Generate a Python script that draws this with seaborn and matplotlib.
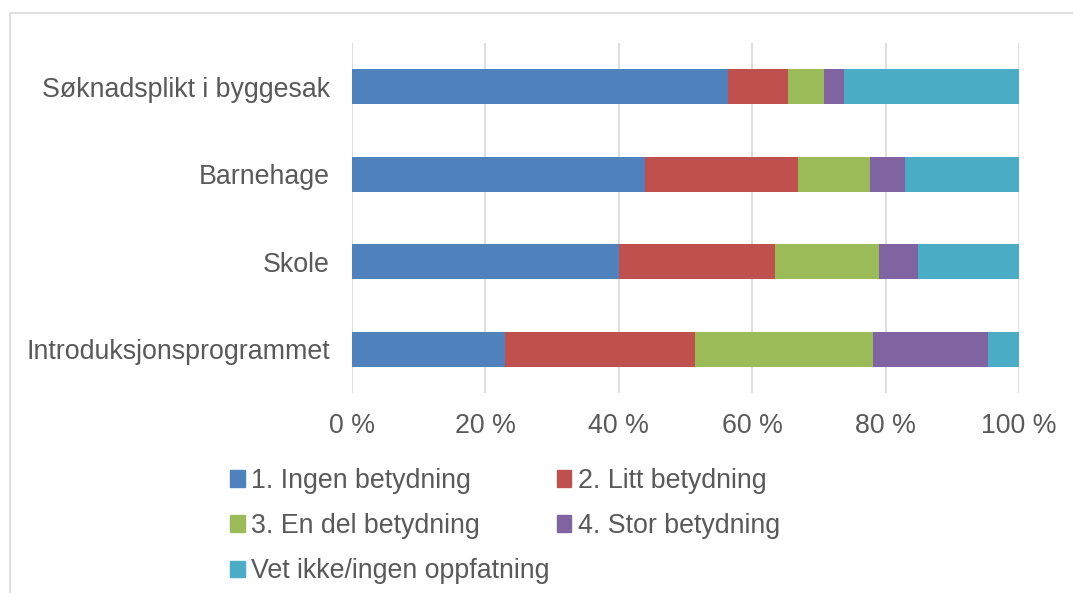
import matplotlib
matplotlib.use("Agg")
import matplotlib.pyplot as plt
import matplotlib.patches as mpatches
import seaborn as sns
import pandas as pd
import numpy as np

categories = ["Søknadsplikt i byggesak", "Barnehage", "Skole", "Introduksjonsprogrammet"]
series_names = ["1. Ingen betydning", "2. Litt betydning", "3. En del betydning",
                "4. Stor betydning", "Vet ikke/ingen oppfatning"]
ingen = [56.4, 43.9, 40.0, 22.9]
litt = [8.9, 22.9, 23.4, 28.5]
en_del = [5.5, 10.8, 15.6, 26.7]
stor = [2.9, 5.3, 5.8, 17.2]
vet_ikke = [26.3, 17.1, 15.2, 4.7]
colors = ["#4F81BD", "#C0504D", "#9BBB59", "#8064A2", "#4BACC6"]
tick_labels = ["0 %", "20 %", "40 %", "60 %", "80 %", "100 %"]

sns.set_theme(style="white")
plt.rcParams['font.family'] = ['Liberation Sans', 'DejaVu Sans']
text_color = "#595959"
FS = 19.3

series = [ingen, litt, en_del, stor, vet_ikke]
cum = np.cumsum(np.array(series), axis=0)

W, H = 1073, 593
fig = plt.figure(figsize=(W / 100, H / 100), dpi=100)
ax = fig.add_axes([352 / W, 1 - 393 / H, (1019 - 352) / W, (393 - 43) / H])

# draw cumulative from last to first so earlier segments sit on top
for i in range(len(series) - 1, -1, -1):
    df = pd.DataFrame({"cat": categories, "val": cum[i]})
    sns.barplot(data=df, y="cat", x="val", orient="h", color=colors[i],
                width=0.4, ax=ax, saturation=1, linewidth=0, zorder=3)

ax.set_xlim(0, 100)
ax.set_ylim(3.5, -0.5)
ax.set_xticks([0, 20, 40, 60, 80, 100])
ax.set_xticklabels(tick_labels)
ax.set_xlabel("")
ax.set_ylabel("")
ax.grid(axis="x", color="#D9D9D9", linewidth=1.2, zorder=0)
ax.grid(axis="y", visible=False)
for s in ax.spines.values():
    s.set_visible(False)
ax.tick_params(axis="x", length=0, pad=14.5, labelsize=FS, labelcolor=text_color)
ax.tick_params(axis="y", length=0, pad=16, labelsize=FS, labelcolor=text_color)

# chart frame
frame = mpatches.Rectangle((10 / W, -0.1), 1.2, 1 - 13 / H + 0.1, transform=fig.transFigure,
                           fill=False, edgecolor="#D9D9D9", linewidth=1.2)
fig.patches.append(frame)

handles = [mpatches.Patch(color=c, label=n) for c, n in zip(colors, series_names)]
order = [0, 2, 4, 1, 3]
leg = fig.legend([handles[i] for i in order], [series_names[i] for i in order],
                 ncol=2, loc="upper left", bbox_to_anchor=(230 / W, 1 - 468 / H),
                 frameon=False, fontsize=FS, handlelength=0.55, handleheight=0.55,
                 handletextpad=0.25, columnspacing=0.25, labelspacing=0.71,
                 borderpad=0, borderaxespad=0)
for t in leg.get_texts():
    t.set_color(text_color)

fig.savefig("out.png", dpi=100, facecolor="white")
